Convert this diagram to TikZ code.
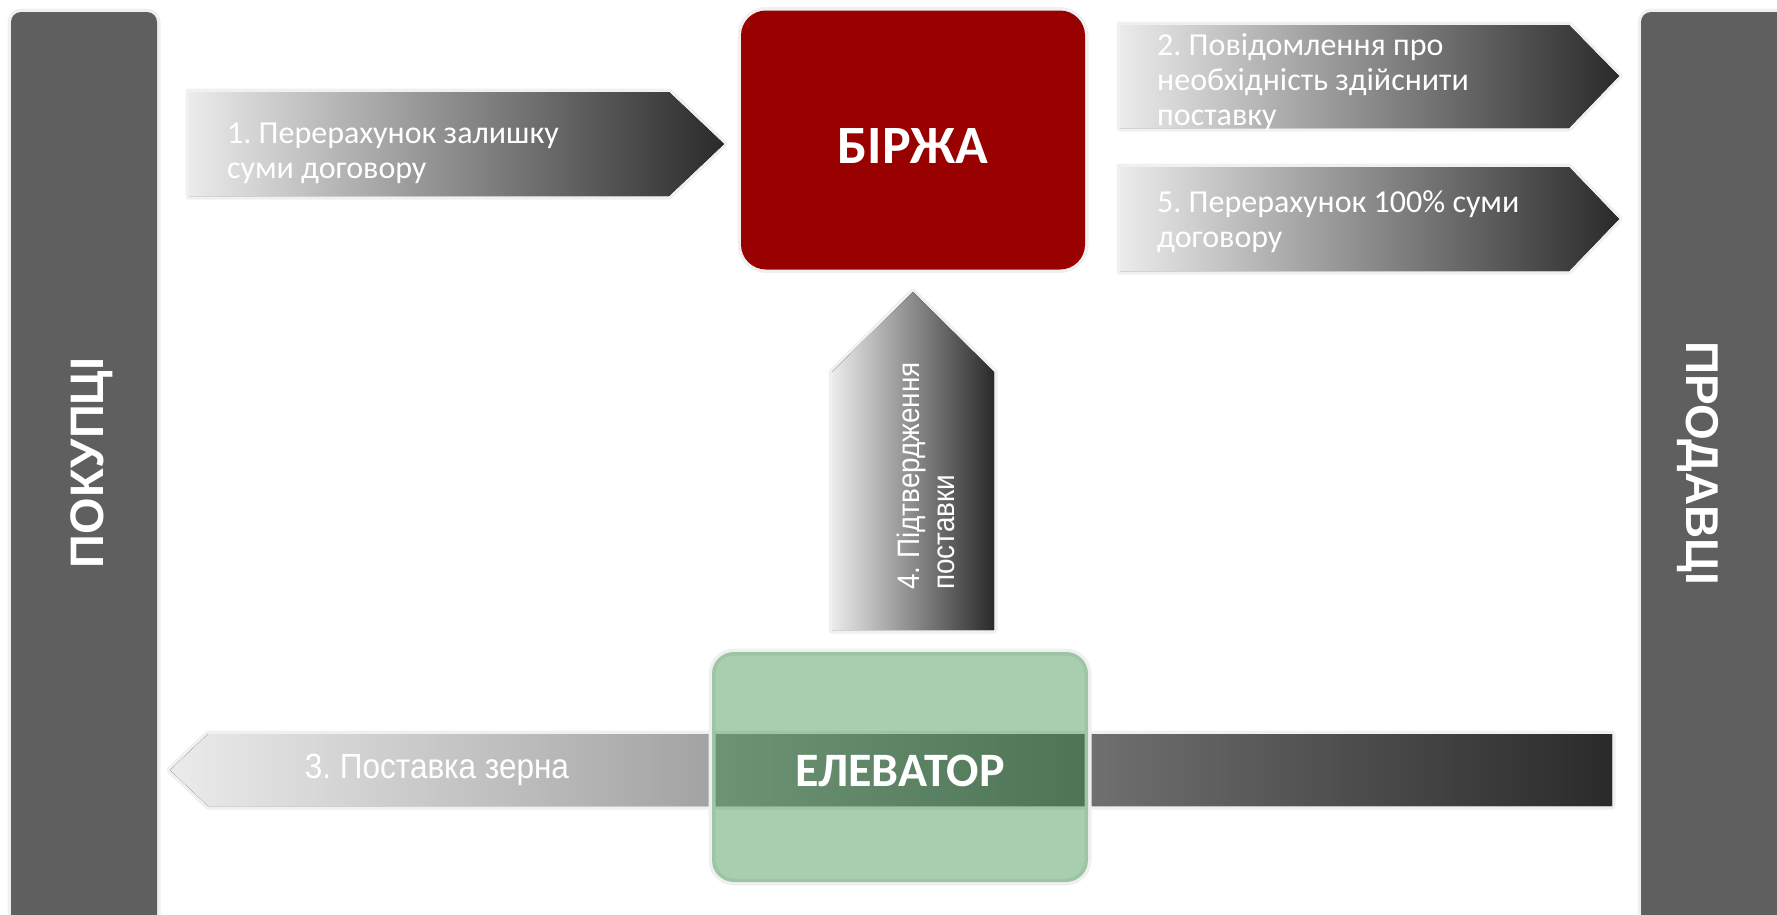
\documentclass[tikz,border=0pt]{standalone}
\usepackage{fontspec}
\setmainfont{Carlito}
\newfontfamily\barfont{Liberation Sans}
\newfontfamily\narrowfont[FakeStretch=0.9]{Liberation Sans}
\usepackage{tikz}
\frenchspacing

\definecolor{bargray}{HTML}{5F5F5F}
\definecolor{edgegray}{HTML}{F0F0F0}
\definecolor{birzhared}{HTML}{990000}
\definecolor{elevgreen}{HTML}{147A29}
\definecolor{arrlight}{HTML}{EBEBEB}
\definecolor{arrdark}{HTML}{2A2A2A}

\tikzset{
  rim/.style={preaction={draw=edgegray, line width=7, line join=round}},
  flow/.style={rim, left color=arrlight, right color=arrdark},
  steptext/.style={text=white, align=left, inner sep=0, font=\fontsize{32}{35}\selectfont},
  bartext/.style={text=white, inner sep=0, font=\barfont\bfseries\fontsize{47}{52}\selectfont},
}

\begin{document}
\begin{tikzpicture}[x=1pt, y=-1pt]
        \useasboundingbox (0,0) rectangle (1777,914);

        % Side bars
        \fill[rim, bargray, rounded corners=10] (11,12) rectangle (157,940);
        \node[bartext, rotate=90] (buyers) at (92,463) {ПОКУПЦІ};
        \fill[rim, bargray, rounded corners=10] (1641,12) rectangle (1800,940);
        \node[bartext, rotate=-90, font=\barfont\bfseries\fontsize{46}{52}\selectfont] (sellers) at (1698,463) {ПРОДАВЦІ};

        % Exchange
        \node[rim, fill=birzhared, rounded corners=25, minimum width=344, minimum height=259,
              text=white, text height=47, text depth=0,
              font=\bfseries\fontsize{54}{60}\selectfont] (exchange) at (913,140) {БІРЖА};

        % Step 1
        \fill[flow] (189,92) -- (669,92) -- (724,144) -- (669,196) -- (189,196) -- cycle;
        \node[steptext, anchor=west] (pay) at (227,153) {1. Перерахунок залишку\\суми договору};

        % Steps 2 and 5
        \fill[flow] (1120,25) -- (1569,25) -- (1619,76) -- (1569,128) -- (1120,128) -- cycle;
        \node[steptext, anchor=west] (notice) at (1157,82) {2. Повідомлення про\\необхідність здійснити\\поставку};
        \fill[flow] (1120,167) -- (1569,167) -- (1619,219) -- (1569,271) -- (1120,271) -- cycle;
        \node[steptext, anchor=west] (payfull) at (1157,222) {5. Перерахунок 100\% суми\\договору};

        % Step 4
        \fill[flow] (832,630) -- (832,372) -- (913,292) -- (994,372) -- (994,630) -- cycle;
        \node[steptext, rotate=90, anchor=west, font=\narrowfont\fontsize{31}{35}\selectfont] (confirm) at (926,590) {4. Підтвердження\\поставки};

        % Step 3
        \fill[flow] (1612,734) -- (208,734) -- (170,770) -- (208,806) -- (1612,806) -- cycle;
        \node[steptext, font=\narrowfont\fontsize{35}{40}\selectfont] (grain) at (437,770) {3. Поставка зерна};

        % Elevator
        \node[rim, fill=elevgreen, fill opacity=0.37, text opacity=1, rounded corners=22,
              minimum width=376, minimum height=230, text=white, text height=39, text depth=0,
              font=\bfseries\fontsize{48}{55}\selectfont] (elevator) at (900,767) {ЕЛЕВАТОР};
\end{tikzpicture}
\end{document}
